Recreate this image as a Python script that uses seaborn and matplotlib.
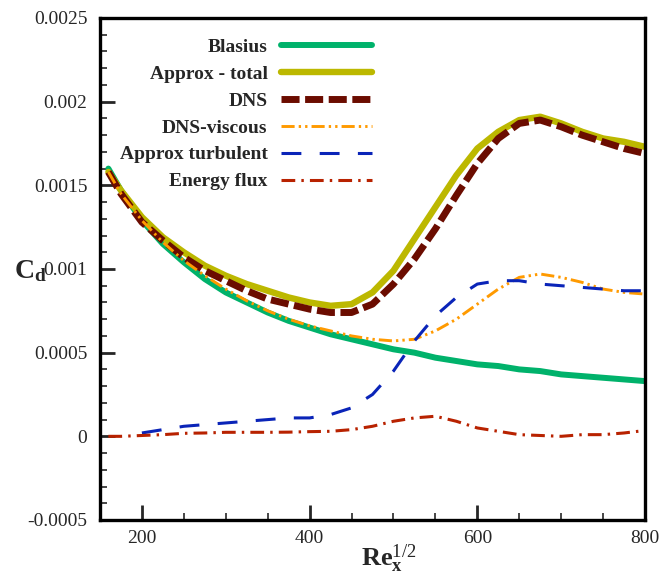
import numpy as np
import pandas as pd
import matplotlib
matplotlib.use("Agg")
import matplotlib.pyplot as plt
import seaborn as sns
from matplotlib.ticker import MultipleLocator

# ---- data ----
re_half = [160, 175, 200, 225, 250, 275, 300, 325, 350, 375, 400, 425, 450, 475,
           500, 525, 550, 575, 600, 625, 650, 675, 700, 725, 750, 775, 800]
blasius = [0.00160, 0.00147, 0.00129, 0.00115, 0.00104, 0.00094, 0.00086, 0.00080,
           0.00074, 0.00069, 0.00065, 0.00061, 0.00058, 0.00055, 0.00052, 0.00050,
           0.00047, 0.00045, 0.00043, 0.00042, 0.00040, 0.00039, 0.00037, 0.00036,
           0.00035, 0.00034, 0.00033]
approx_total = [0.00158, 0.00147, 0.00131, 0.00119, 0.00110, 0.00102, 0.00096, 0.00091,
                0.00087, 0.00083, 0.00080, 0.00078, 0.00079, 0.00086, 0.00099, 0.00118,
                0.00137, 0.00156, 0.00172, 0.00182, 0.00189, 0.00191, 0.00187, 0.00182,
                0.00178, 0.00176, 0.00173]
dns = [0.00158, 0.00145, 0.00128, 0.00117, 0.00107, 0.00099, 0.00093, 0.00087,
       0.00082, 0.00079, 0.00076, 0.00074, 0.00074, 0.00079, 0.00091, 0.00106,
       0.00124, 0.00144, 0.00163, 0.00178, 0.00187, 0.00189, 0.00185, 0.00180,
       0.00176, 0.00172, 0.00169]
dns_viscous = [0.00158, 0.00145, 0.00129, 0.00116, 0.00105, 0.00096, 0.00088, 0.00081,
               0.00075, 0.00070, 0.00066, 0.00063, 0.00060, 0.00058, 0.00057, 0.00058,
               0.00063, 0.00070, 0.00079, 0.00088, 0.00095, 0.00097, 0.00095, 0.00092,
               0.00088, 0.00086, 0.00085]
approx_turbulent = [np.nan, np.nan, 0.00002, 0.00004, 0.00006, 0.00007, 0.00008, 0.00009,
                    0.00010, 0.00011, 0.00011, 0.00013, 0.00017, 0.00025, 0.00039, 0.00057,
                    0.00072, 0.00083, 0.00091, 0.00093, 0.00093, 0.00091, 0.00090, 0.00089,
                    0.00088, 0.00087, 0.00087]
energy_flux = [0.0, 0.0, 0.000005, 0.00001, 0.000018, 0.00002, 0.000024, 0.000024,
               0.000024, 0.000025, 0.000028, 0.00003, 0.00004, 0.00006, 0.00009, 0.00011,
               0.00012, 0.00009, 0.00005, 0.00003, 0.00001, 0.000005, 0.0, 0.00001,
               0.00001, 0.00002, 0.000035]

series_names = ["Blasius", "Approx - total", "DNS", "DNS-viscous",
                "Approx turbulent", "Energy flux"]
xticks = [200, 400, 600, 800]
yticks = [-0.0005, 0, 0.0005, 0.001, 0.0015, 0.002, 0.0025]
ytick_labels = ["-0.0005", "0", "0.0005", "0.001", "0.0015", "0.002", "0.0025"]

df = pd.DataFrame({"x": re_half, "Blasius": blasius, "Approx - total": approx_total,
                   "DNS": dns, "DNS-viscous": dns_viscous,
                   "Approx turbulent": approx_turbulent, "Energy flux": energy_flux})

styles = {
    "Blasius": dict(color="#00b26b", linewidth=4.3, linestyle="-"),
    "Approx - total": dict(color="#bcb800", linewidth=4.6, linestyle="-"),
    "DNS": dict(color="#6b0c00", linewidth=5.0, linestyle=(0, (2.6, 0.8))),
    "DNS-viscous": dict(color="#ff9a00", linewidth=2.1,
                        linestyle=(0, (4.5, 1.4, 0.8, 1.4, 0.8, 1.4))),
    "Approx turbulent": dict(color="#0a24b8", linewidth=2.2, linestyle=(0, (6.5, 6))),
    "Energy flux": dict(color="#b82200", linewidth=2.2, linestyle=(0, (4.5, 2.0, 0.8, 2.0))),
}

sns.set_style("white")
plt.rcParams["font.family"] = ["Liberation Serif", "DejaVu Serif"]
plt.rcParams["mathtext.fontset"] = "custom"
plt.rcParams["mathtext.rm"] = "Liberation Serif"
plt.rcParams["mathtext.it"] = "Liberation Serif:italic"
plt.rcParams["mathtext.bf"] = "Liberation Serif:bold"

fig = plt.figure(figsize=(6.71, 5.84), dpi=100)
ax = fig.add_axes([0.149, 0.1096, 0.8123, 0.8596])

for name in series_names:
    sns.lineplot(data=df, x="x", y=name, ax=ax, label=name, **styles[name])

ax.set_xlim(150, 800)
ax.set_ylim(-0.0005, 0.0025)
ax.set_xticks(xticks)
ax.set_xticklabels([str(v) for v in xticks])
ax.set_yticks(yticks)
ax.set_yticklabels(ytick_labels)
ax.xaxis.set_minor_locator(MultipleLocator(50))
ax.yaxis.set_minor_locator(MultipleLocator(0.0001))
ax.tick_params(which="major", direction="in", length=11, width=2.0, labelsize=14,
               top=False, right=False, bottom=True, left=True)
ax.tick_params(axis="x", which="major", pad=7)
ax.tick_params(axis="y", which="major", pad=9)
ax.tick_params(which="minor", direction="in", length=5, width=1.2,
               top=False, right=False, bottom=True, left=True)
for sp in ax.spines.values():
    sp.set_linewidth(2.4)
    sp.set_color("black")

ax.set_xlabel(r"$\mathbf{Re}_{\mathbf{x}}^{1/2}$", fontsize=19)
ax.xaxis.set_label_coords(0.53, -0.045)
ax.set_ylabel(r"$\mathbf{C}_{\mathbf{d}}$", fontsize=20, rotation=0)
ax.yaxis.set_label_coords(-0.128, 0.47)

leg = ax.legend(loc="upper right", bbox_to_anchor=(0.499, 0.96), frameon=False,
                markerfirst=False, borderpad=0, borderaxespad=0,
                handlelength=4.7, handletextpad=0.67, labelspacing=0.48,
                prop={"family": "Liberation Serif", "weight": "bold", "size": 14})
for col in leg._legend_handle_box.get_children():
    col.align = "right"

fig.savefig("out.png", dpi=100)
